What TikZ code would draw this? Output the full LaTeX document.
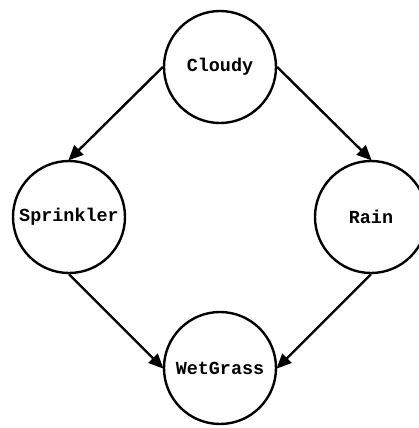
\documentclass[tikz,border=0pt]{standalone}
\usepackage{fontspec}
\setmonofont{Liberation Mono}
\usetikzlibrary{arrows.meta}
\begin{document}
\begin{tikzpicture}[x=1bp,y=-1bp,
  var/.style={circle,draw,line width=2.4bp,minimum size=112bp,inner sep=0pt,
    font=\ttfamily\bfseries\fontsize{18.5}{20}\selectfont},
  edge/.style={line width=2.4bp,-{Triangle[length=15bp,width=13bp]},shorten >=-1bp}]
\useasboundingbox[fill=white] (0,0) rectangle (419,428);
\node[var] (cloudy) at (220,67){Cloudy};
\node[var] (sprinkler) at (69,217){Sprinkler};
\node[var] (rain) at (371,217){Rain};
\node[var] (wetgrass) at (220,368){WetGrass};

\draw[edge] (cloudy.west)--(sprinkler.north);
\draw[edge] (cloudy.east)--(rain.north);
\draw[edge] (sprinkler.south)--(wetgrass.west);
\draw[edge] (rain.south)--(wetgrass.east);

\end{tikzpicture}
\end{document}
